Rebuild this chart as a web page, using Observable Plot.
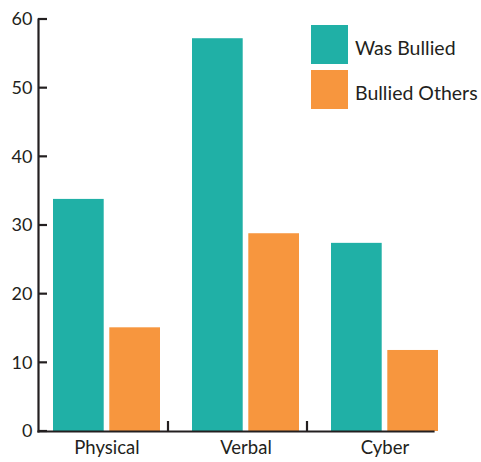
<!DOCTYPE html>
<html><head><meta charset="utf-8">
<script src="https://cdn.jsdelivr.net/npm/d3@7"></script>
<script src="https://cdn.jsdelivr.net/npm/@observablehq/plot@0.6"></script>
<style>
body{margin:0;background:#fff;font-family:Lato,sans-serif;}
#wrap{position:relative;width:481px;height:462px;}
.legend{position:absolute;left:311px;top:25px;}
.item{display:flex;align-items:center;height:39px;margin-bottom:6px;}
.sw{width:37px;height:39px;margin-right:7px;flex:none;}
.lab{font-size:19.5px;color:#231f20;padding-top:5px;white-space:nowrap;}
</style></head><body><div id="wrap"></div>
<script>
const categories = ["Physical", "Verbal", "Cyber"];
const series = ["Was Bullied", "Bullied Others"];
const wasBullied = [33.8, 57.2, 27.4];
const bulliedOthers = [15.1, 28.8, 11.8];
const yTicks = [0, 10, 20, 30, 40, 50, 60];
const colors = ["#20b0a6", "#f7963e"];

const ink = "#231f20";
const W = 481, H = 462;
const mL = 38, mR = 48, mT = 19, mB = 31;

const rows = [];
categories.forEach((c, i) => {
  rows.push({category: c, series: series[0], value: wasBullied[i]});
  rows.push({category: c, series: series[1], value: bulliedOthers[i]});
});

function yTickMarks(index, scales) {
  const g = d3.create("svg:g").attr("stroke", ink).attr("stroke-width", 2.2);
  for (const t of yTicks) {
    const yy = scales.y(t);
    g.append("line").attr("x1", mL).attr("x2", mL + 9).attr("y1", yy).attr("y2", yy);
  }
  return g.node();
}
function sepMarks(index, scales) {
  const g = d3.create("svg:g").attr("stroke", ink).attr("stroke-width", 2.2);
  for (const c of categories.slice(1)) {
    const xx = scales.x(c) - 8;
    g.append("line").attr("x1", xx).attr("x2", xx).attr("y1", scales.y(0)).attr("y2", scales.y(0) - 10);
  }
  return g.node();
}

const chart = Plot.plot({
  width: W, height: H,
  marginLeft: mL, marginRight: mR, marginTop: mT, marginBottom: mB,
  style: {fontFamily: "Lato, sans-serif", fontSize: "18px", color: ink, background: "white", overflow: "visible"},
  x: {domain: categories, range: [36, 454], padding: 0, label: null},
  y: {domain: [0, 60], label: null},
  color: {domain: series, range: colors},
  marks: [
    Plot.barY(rows.filter(d => d.series === series[0]), {x: "category", y: "value", fill: "series", insetLeft: 16, insetRight: 72.3}),
    Plot.barY(rows.filter(d => d.series === series[1]), {x: "category", y: "value", fill: "series", insetLeft: 72.3, insetRight: 16}),
    Plot.axisY({ticks: yTicks, tickSize: 0, tickPadding: 6, fontSize: 18}),
    Plot.axisX({tickSize: 0, tickPadding: 9, fontSize: 18.5}),
    Plot.frame({anchor: "left", stroke: ink, strokeWidth: 2.2}),
    Plot.frame({anchor: "bottom", stroke: ink, strokeWidth: 2.2}),
    yTickMarks,
    sepMarks
  ]
});

const wrap = document.getElementById("wrap");
wrap.appendChild(chart);
const leg = document.createElement("div");
leg.className = "legend";
series.forEach((s, i) => {
  const it = document.createElement("div");
  it.className = "item";
  const sw = document.createElement("div");
  sw.className = "sw";
  sw.style.background = colors[i];
  const lab = document.createElement("span");
  lab.className = "lab";
  lab.textContent = s;
  it.appendChild(sw); it.appendChild(lab);
  leg.appendChild(it);
});
wrap.appendChild(leg);
</script></body></html>
